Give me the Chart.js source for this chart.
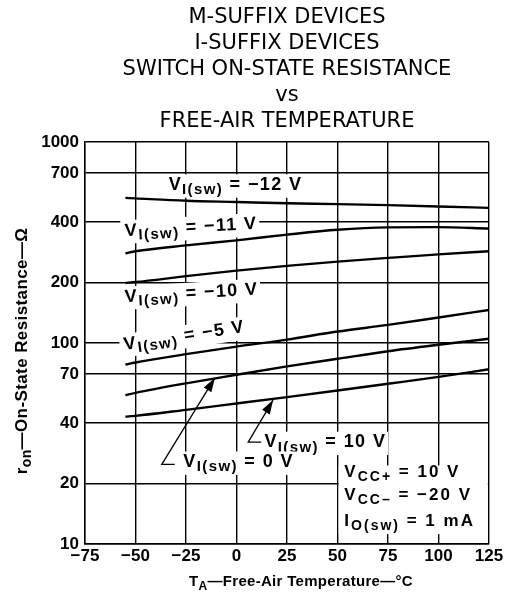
<!DOCTYPE html>
<html>
<head>
<meta charset="utf-8">
<script src="https://cdn.jsdelivr.net/npm/chart.js@4.4.0/dist/chart.umd.min.js"></script>
<style>
  html, body { margin: 0; padding: 0; background: #fff; }
  #wrap { width: 507px; height: 605px; }
</style>
</head>
<body>
<div id="wrap"><canvas id="ronChart" width="507" height="605"></canvas></div>
<script>
// temperature points, °C
const temps = [-55, -50, -25, 0, 25, 50, 75, 100, 125];
// on-state resistance, ohms, one array per input voltage
const ronM12 = [527, 524, 510, 503, 496, 491, 485, 478, 470];
const ronM11 = [279, 286, 306, 324, 346, 366, 376, 377, 371];
const ronM10 = [199, 201, 215, 229, 242, 254, 265, 276, 286];
const ronM5  = [78, 80, 88, 96, 104, 114, 123, 134, 146];
const ron0   = [55, 56.5, 63, 69.5, 76.5, 83.5, 91, 98, 105];
const ron10  = [43, 43.4, 46.5, 50, 53.8, 58, 62.7, 67.8, 74];

const yTicks = [10, 20, 40, 70, 100, 200, 400, 700, 1000];
const titleLines = ['M-SUFFIX DEVICES', 'I-SUFFIX DEVICES', 'SWITCH ON-STATE RESISTANCE', 'vs', 'FREE-AIR TEMPERATURE'];

// curve labels: anchor in data units (°C, Ω), angle in degrees
const curveNotes = [
    { x: -33.6, y: 610, angle: 0, parts: [['V'], ['I(sw)', 1], [' = \u221212 V']] },
    { x: -55.3, y: 360, angle: -3.2, parts: [['V'], ['I(sw)', 1], [' = \u221211 V']] },
    { x: -55.3, y: 169, angle: -3.3, parts: [['V'], ['I(sw)', 1], [' = \u221210 V']] },
    { x: -55.8, y: 97.7, angle: -8.5, parts: [['V'], ['I(sw)', 1], [' = \u22125 V']] },
    { x: 13.8, y: 32, angle: 0, parts: [['V'], ['I(sw)', 1], [' = 10 V']] },
    { x: -26.3, y: 25.5, angle: 0, parts: [['V'], ['I(sw)', 1], [' = 0 V']] }
];
// leader arrows: corner by the label, tip on the curve
const arrows = [
    { from: [5.8, 32.1], to: [18.1, 52] },
    { from: [-37, 24.9], to: [-10.7, 67] }
];
// conditions box
const condBox = { x1: 50, x2: 125, y1: 11.2, y2: 24.6 };
const condLines = [
    { x: 53.4, y: 22.7, parts: [['V'], ['CC+', 1], [' = 10 V']] },
    { x: 53.4, y: 17.4, parts: [['V'], ['CC\u2013', 1], [' = \u221220 V']] },
    { x: 53.4, y: 12.9, parts: [['I'], ['O(sw)', 1], [' = 1 mA']] }
];
const yTitle = [['r'], ['on', 1], ['\u2014On-State Resistance\u2014\u03A9']];
const xTitle = [['T'], ['A', 1], ['\u2014Free-Air Temperature\u2014\u00B0C']];

const FONT = '"Liberation Sans", Arial, sans-serif';
const LABEL_SIZE = 18;
const LABEL_SPACING = 1.4;

function partFont(p, size) {
    return 'bold ' + (p[1] ? Math.round(size * 0.82) : size) + 'px ' + FONT;
}

function richWidth(ctx, parts, size, spacing) {
    let w = 0;
    ctx.letterSpacing = (spacing || 0) + 'px';
    for (const p of parts) {
        ctx.font = partFont(p, size);
        w += ctx.measureText(p[0]).width;
    }
    return w;
}

function drawRich(ctx, parts, x, y, size, spacing) {
    let cx = x;
    ctx.textBaseline = 'middle';
    ctx.textAlign = 'left';
    ctx.letterSpacing = (spacing || 0) + 'px';
    for (const p of parts) {
        ctx.font = partFont(p, size);
        ctx.fillText(p[0], cx, y + (p[1] ? size * 0.28 : 0));
        cx += ctx.measureText(p[0]).width;
    }
}

const notesPlugin = {
    id: 'notes',
    beforeDatasetsDraw(chart) {
        const { ctx, scales: { x, y } } = chart;
        ctx.save();
        ctx.fillStyle = '#fff';
        // white conditions box over the grid
        const bx1 = x.getPixelForValue(condBox.x1) + 1.2;
        const bx2 = x.getPixelForValue(condBox.x2) - 1.2;
        const by1 = y.getPixelForValue(condBox.y2);
        const by2 = y.getPixelForValue(condBox.y1);
        ctx.fillRect(bx1, by1, bx2 - bx1, by2 - by1);
        ctx.fillStyle = '#000';
        for (const l of condLines) {
            drawRich(ctx, l.parts, x.getPixelForValue(l.x), y.getPixelForValue(l.y), 17, LABEL_SPACING + 0.6);
        }
        for (const n of curveNotes) {
            const px = x.getPixelForValue(n.x);
            const py = y.getPixelForValue(n.y);
            const w = richWidth(ctx, n.parts, LABEL_SIZE, LABEL_SPACING);
            ctx.save();
            ctx.translate(px, py);
            ctx.rotate(n.angle * Math.PI / 180);
            ctx.fillStyle = '#fff';
            ctx.fillRect(-4, -LABEL_SIZE * 0.6, w + 6, LABEL_SIZE * 1.3);
            ctx.fillStyle = '#000';
            drawRich(ctx, n.parts, 0, 0, LABEL_SIZE, LABEL_SPACING);
            ctx.restore();
        }
        ctx.restore();
    },
    afterDatasetsDraw(chart) {
        const { ctx, scales: { x, y } } = chart;
        ctx.save();
        ctx.strokeStyle = '#000';
        ctx.fillStyle = '#000';
        ctx.lineWidth = 1.3;
        for (const a of arrows) {
            const x0 = x.getPixelForValue(a.from[0]), y0 = y.getPixelForValue(a.from[1]);
            const x1 = x.getPixelForValue(a.to[0]), y1 = y.getPixelForValue(a.to[1]);
            ctx.beginPath();
            ctx.moveTo(x0 + 13, y0);
            ctx.lineTo(x0, y0);
            ctx.lineTo(x1, y1);
            ctx.stroke();
            const ang = Math.atan2(y1 - y0, x1 - x0);
            const len = 14, half = 4.5;
            ctx.beginPath();
            ctx.moveTo(x1, y1);
            ctx.lineTo(x1 - len * Math.cos(ang) + half * Math.sin(ang), y1 - len * Math.sin(ang) - half * Math.cos(ang));
            ctx.lineTo(x1 - len * Math.cos(ang) - half * Math.sin(ang), y1 - len * Math.sin(ang) + half * Math.cos(ang));
            ctx.closePath();
            ctx.fill();
        }
        ctx.restore();
    },
    afterDraw(chart) {
        const { ctx, chartArea } = chart;
        ctx.save();
        ctx.fillStyle = '#000';
        // x axis title
        const wx = richWidth(ctx, xTitle, 15, 0.3);
        drawRich(ctx, xTitle, 301 - wx / 2, 582, 15, 0.3);
        // y axis title, rotated
        const wy = richWidth(ctx, yTitle, 17, 0.4);
        ctx.translate(22, (chartArea.top + chartArea.bottom) / 2 + 8);
        ctx.rotate(-Math.PI / 2);
        drawRich(ctx, yTitle, -wy / 2, 0, 17, 0.4);
        ctx.restore();
    }
};

function series(vals) {
    return {
        data: temps.map((t, i) => ({ x: t, y: vals[i] })),
        borderColor: '#000',
        borderWidth: 2.4,
        pointRadius: 0,
        fill: false,
        cubicInterpolationMode: 'monotone'
    };
}

const ctx = document.getElementById('ronChart').getContext('2d');
const chart = new Chart(ctx, {
    type: 'line',
    data: {
        datasets: [series(ronM12), series(ronM11), series(ronM10), series(ronM5), series(ron0), series(ron10)]
    },
    options: {
        responsive: false,
        animation: false,
        devicePixelRatio: 1,
        layout: { padding: { left: 0, right: 18, top: 0, bottom: 0 } },
        plugins: {
            legend: { display: false },
            tooltip: { enabled: false },
            title: {
                display: true,
                fullSize: false,
                text: titleLines,
                color: '#000',
                font: { family: '"DejaVu Sans", sans-serif', size: 21, weight: 'normal', lineHeight: '26.2px' },
                padding: { top: 4, bottom: 7 }
            }
        },
        scales: {
            x: {
                type: 'linear',
                min: -75,
                max: 125,
                ticks: {
                    stepSize: 25,
                    color: '#000',
                    padding: 2,
                    font: { family: FONT, size: 17, weight: 'bold' },
                    callback: v => (v < 0 ? '\u2212' + Math.abs(v) : String(v))
                },
                grid: { color: '#000', lineWidth: 1.4, drawTicks: false },
                border: { color: '#000', width: 1.4 },
                afterFit(scale) { scale.height = 61; }
            },
            y: {
                type: 'logarithmic',
                min: 10,
                max: 1000,
                afterBuildTicks(scale) { scale.ticks = yTicks.map(v => ({ value: v })); },
                ticks: {
                    color: '#000',
                    padding: 6,
                    font: { family: FONT, size: 17, weight: 'bold' },
                    callback: v => String(v)
                },
                grid: { color: '#000', lineWidth: 1.4, drawTicks: false },
                border: { color: '#000', width: 1.4 },
                afterFit(scale) { scale.width = 85; }
            }
        }
    },
    plugins: [notesPlugin]
});
</script>
</body>
</html>
